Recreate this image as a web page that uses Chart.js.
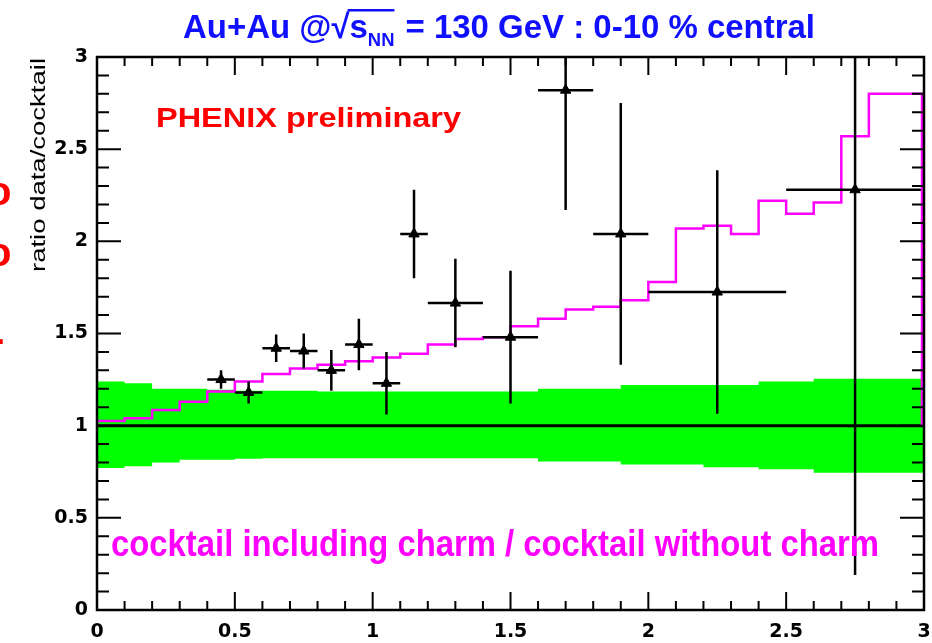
<!DOCTYPE html>
<html><head><meta charset="utf-8">
<script src="https://cdn.jsdelivr.net/npm/chart.js@4/dist/chart.umd.min.js"></script>
<style>html,body{margin:0;padding:0;background:#fff;overflow:hidden}canvas{display:block}</style>
</head><body>
<canvas id="c" width="932" height="643"></canvas>
<script>
// ---- data ----
const pointX    = [0.45, 0.55, 0.65, 0.75, 0.85, 0.95, 1.05, 1.15, 1.30, 1.50, 1.70, 1.90, 2.25, 2.75];
const pointY    = [1.25, 1.18, 1.42, 1.405, 1.30, 1.44, 1.23, 2.04, 1.665, 1.48, 2.82, 2.04, 1.725, 2.28];
const pointXErr = [0.05, 0.05, 0.05, 0.05, 0.05, 0.05, 0.05, 0.05, 0.10, 0.10, 0.10, 0.10, 0.25, 0.25];
const pointYErr = [0.05, 0.06, 0.075, 0.095, 0.11, 0.14, 0.17, 0.24, 0.24, 0.36, 0.65, 0.71, 0.66, 2.09];

const binLowEdges = [0.0,0.1,0.2,0.3,0.4,0.5,0.6,0.7,0.8,0.9,1.0,1.1,1.2,1.3,1.4,1.5,1.6,1.7,1.8,1.9,2.0,2.1,2.2,2.3,2.4,2.5,2.6,2.7,2.8,2.9];
const binHighEdge = 3.0;
const charmRatio  = [1.00,1.025,1.04,1.085,1.13,1.185,1.24,1.28,1.31,1.33,1.35,1.37,1.39,1.44,1.47,1.48,1.54,1.58,1.63,1.645,1.68,1.78,2.07,2.085,2.04,2.22,2.15,2.21,2.57,2.80];
const charmRatioEndDrop = 1.0;

const bandUpper = [1.24,1.24,1.23,1.20,1.20,1.195,1.19,1.19,1.19,1.185,1.185,1.185,1.185,1.185,1.185,1.185,1.185,1.20,1.20,1.20,1.22,1.22,1.22,1.22,1.22,1.24,1.24,1.255,1.255,1.255];
const bandLower = [0.76,0.77,0.78,0.80,0.815,0.815,0.82,0.823,0.823,0.823,0.823,0.823,0.823,0.823,0.823,0.823,0.823,0.805,0.805,0.805,0.79,0.79,0.79,0.775,0.775,0.763,0.763,0.745,0.745,0.745];

const referenceLevel = 1.0;
const axisMin = 0, axisMax = 3, majorStep = 0.5, minorStep = 0.1;

// ---- build datasets ----
const pts = pointX.map((x, i) => ({x, y: pointY[i]}));
function stepData(vals, endDrop) {
  const d = binLowEdges.map((x, i) => ({x, y: vals[i]}));
  d.push({x: binHighEdge, y: vals[vals.length - 1]});
  if (endDrop !== undefined) d.push({x: binHighEdge, y: endDrop});
  return d;
}
const histData = stepData(charmRatio, charmRatioEndDrop);
const upData = stepData(bandUpper);
const loData = stepData(bandLower);
const refData = [{x: axisMin, y: referenceLevel}, {x: axisMax, y: referenceLevel}];

const FONT = '"Liberation Sans", Arial, sans-serif';

function fitText(ctx, text, font, color, x, baseline, width) {
  ctx.save();
  ctx.font = font; ctx.fillStyle = color; ctx.textBaseline = 'alphabetic'; ctx.textAlign = 'left';
  const w = ctx.measureText(text).width;
  ctx.translate(x, baseline); ctx.scale(width / w, 1);
  ctx.fillText(text, 0, 0);
  ctx.restore();
}

const decor = {
  id: 'decor',
  afterDatasetsDraw(chart) {
    const {ctx, chartArea: a, scales: {x, y}} = chart;
    ctx.save();
    ctx.beginPath(); ctx.rect(a.left, a.top, a.right - a.left, a.bottom - a.top); ctx.clip();
    ctx.strokeStyle = '#000'; ctx.lineWidth = 2.5; ctx.lineCap = 'butt';
    pointX.forEach((px, i) => {
      const cx = x.getPixelForValue(px), cy = y.getPixelForValue(pointY[i]);
      ctx.beginPath();
      ctx.moveTo(x.getPixelForValue(px - pointXErr[i]), cy);
      ctx.lineTo(x.getPixelForValue(px + pointXErr[i]), cy);
      ctx.moveTo(cx, y.getPixelForValue(pointY[i] - pointYErr[i]));
      ctx.lineTo(cx, y.getPixelForValue(pointY[i] + pointYErr[i]));
      ctx.stroke();
    });
    ctx.restore();
  },
  afterDraw(chart) {
    const {ctx, chartArea: a, scales: {x, y}} = chart;
    ctx.save();
    // magenta histogram right edge
    ctx.strokeStyle = '#ff00ff'; ctx.lineWidth = 2.5;
    ctx.beginPath();
    ctx.moveTo(x.getPixelForValue(binHighEdge) - 2, y.getPixelForValue(charmRatio[charmRatio.length - 1]));
    ctx.lineTo(x.getPixelForValue(binHighEdge) - 2, y.getPixelForValue(charmRatioEndDrop));
    ctx.stroke();
    // frame
    ctx.strokeStyle = '#000'; ctx.lineWidth = 2.5;
    ctx.strokeRect(a.left, a.top, a.right - a.left, a.bottom - a.top);
    // inward ticks on all four sides
    ctx.lineWidth = 2;
    ctx.beginPath();
    for (let i = 0; i <= Math.round((axisMax - axisMin) / minorStep); i++) {
      const v = axisMin + i * minorStep;
      const major = Math.abs(v / majorStep - Math.round(v / majorStep)) < 1e-6;
      const px = x.getPixelForValue(v), py = y.getPixelForValue(v);
      const lx = major ? 18 : 9, ly = major ? 24 : 12;
      ctx.moveTo(px, a.bottom); ctx.lineTo(px, a.bottom - lx);
      ctx.moveTo(px, a.top); ctx.lineTo(px, a.top + lx);
      ctx.moveTo(a.left, py); ctx.lineTo(a.left + ly, py);
      ctx.moveTo(a.right, py); ctx.lineTo(a.right - ly, py);
    }
    ctx.stroke();

    // title
    const mainF = 'bold 34px ' + FONT, subF = 'bold 19px ' + FONT;
    const p1 = 'Au+Au @', rad = '\u221A', s = 's', nn = 'NN', p2 = ' = 130 GeV : 0-10 % central';
    ctx.font = mainF;
    const w1 = ctx.measureText(p1).width, wr = ctx.measureText(rad).width, ws = ctx.measureText(s).width, w2 = ctx.measureText(p2).width;
    ctx.font = subF;
    const wn = ctx.measureText(nn).width;
    const total = w1 + wr + ws + wn + 2 + w2;
    ctx.save();
    ctx.fillStyle = '#1010ff';
    ctx.translate(183, 38); ctx.scale(632 / total, 1);
    ctx.font = mainF; ctx.textBaseline = 'alphabetic';
    ctx.fillText(p1, 0, 0);
    ctx.fillText(rad, w1, 0);
    ctx.fillText(s, w1 + wr, 0);
    ctx.font = subF; ctx.fillText(nn, w1 + wr + ws, 8);
    ctx.font = mainF; ctx.fillText(p2, w1 + wr + ws + wn + 2, 0);
    ctx.fillRect(w1 + wr - 2, -29, ws + wn + 2, 2.5);
    ctx.restore();

    // annotations
    fitText(ctx, 'PHENIX preliminary', 'bold 28px ' + FONT, '#ff0000', 156, 127, 305);
    fitText(ctx, 'cocktail including charm / cocktail without charm', 'bold 36px ' + FONT, '#ff00ff', 111, 556, 768);

    // y axis title
    ctx.save();
    ctx.font = '20px ' + FONT; ctx.fillStyle = '#000';
    const yt = 'ratio data/cocktail';
    const wt = ctx.measureText(yt).width;
    ctx.translate(45, 272); ctx.rotate(-Math.PI / 2); ctx.scale(214 / wt, 1);
    ctx.fillText(yt, 0, 0);
    ctx.restore();

    // clipped red fragments at the left edge
    ctx.save();
    ctx.font = 'bold 40px ' + FONT; ctx.fillStyle = '#ff0000';
    ctx.fillText('o', -13, 205);
    ctx.fillText('o', -13, 266);
    ctx.fillText('-', -9, 352);
    ctx.restore();
    ctx.restore();
  }
};

const tickFont = {family: '"DejaVu Sans", sans-serif', size: 19, weight: 'bold'};
const fmt = (v) => String(Math.round(v * 10) / 10);

new Chart(document.getElementById('c').getContext('2d'), {
  type: 'scatter',
  data: {datasets: [
    {data: pts, showLine: false, pointStyle: 'triangle', pointRadius: 6, backgroundColor: '#000', borderColor: '#000', borderWidth: 1},
    {data: histData, showLine: true, stepped: 'after', borderColor: '#ff00ff', borderWidth: 2.5, pointRadius: 0, fill: false},
    {data: refData, showLine: true, borderColor: '#000', borderWidth: 3, pointRadius: 0, fill: false},
    {data: upData, showLine: true, stepped: 'after', borderColor: 'rgba(0,0,0,0)', borderWidth: 0, pointRadius: 0, fill: '+1', backgroundColor: '#00ff00'},
    {data: loData, showLine: true, stepped: 'after', borderColor: 'rgba(0,0,0,0)', borderWidth: 0, pointRadius: 0, fill: false}
  ]},
  options: {
    responsive: false, devicePixelRatio: 1, animation: false,
    layout: {padding: {left: 0, top: 57, right: 8, bottom: 0}},
    plugins: {legend: {display: false}, tooltip: {enabled: false}},
    scales: {
      x: {type: 'linear', min: axisMin, max: axisMax,
          ticks: {stepSize: majorStep, font: tickFont, color: '#000', padding: 11, maxRotation: 0, callback: fmt},
          grid: {display: false, drawTicks: false}, border: {display: false},
          afterFit(s) { s.height = 33; s.paddingLeft = 0; s.paddingRight = 0; }},
      y: {type: 'linear', min: axisMin, max: axisMax,
          ticks: {stepSize: majorStep, font: tickFont, color: '#000', padding: 9, callback: fmt},
          grid: {display: false, drawTicks: false}, border: {display: false},
          afterFit(s) { s.width = 97; s.paddingTop = 0; s.paddingBottom = 0; }}
    }
  },
  plugins: [decor]
});
</script>
</body></html>
